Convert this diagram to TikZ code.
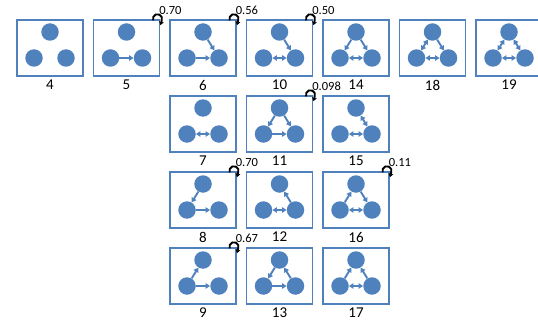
\documentclass[tikz,border=0pt]{standalone}
\usepackage{fontspec}
\setmainfont{Carlito}
\usetikzlibrary{arrows.meta,calc}
\definecolor{mblue}{HTML}{4F81BD}
\tikzset{
  box/.style={draw=mblue, line width=1.3pt, minimum width=66pt, minimum height=56pt, inner sep=0pt},
  dot/.style={circle, fill=mblue, minimum size=17.5pt, inner sep=0pt},
  lab/.style={font=\fontsize{15}{15}\selectfont, inner sep=0pt},
  ann/.style={font=\fontsize{12.5}{12.5}\selectfont, inner sep=0pt, anchor=west},
  ed/.style={draw=mblue, line width=1.9pt, -{Triangle[length=4.5pt,width=5.5pt]}},
  bi/.style={draw=mblue, line width=1.9pt, {Triangle[length=4.5pt,width=5.5pt]}-{Triangle[length=4.5pt,width=5.5pt]}},
  loopy/.style={draw=black, line width=1.9pt, -{Stealth[length=4pt,width=5pt]}}
}
\newcommand{\triad}[4]{%
  \node[box] (box#1) at (#2, #3+28) {};
  \node[dot] (T#1) at (#2, #3+12) {};
  \node[dot] (L#1) at (#2-16, #3+38) {};
  \node[dot] (R#1) at (#2+16, #3+38) {};
  \node[lab] (lab#1) at (#2, #3+65) {#4};
}
\newcommand{\selfloop}[2]{%
  \coordinate (lc#1) at ($(box#1.north east)+(-2.5,-0.5)$);
  \draw[loopy] ($(lc#1)+(-4.5,1.5)$) arc[start angle=160, end angle=385, radius=4.6] -- ++(-1.2,4.5);
  \node[ann] (ann#1) at ($(box#1.north east)+(-1,-9)$) {#2};
}
\begin{document}
\begin{tikzpicture}[x=1pt,y=-1pt]
\useasboundingbox (0,0) rectangle (538,321);
% row 1
\triad{4}{50}{20}{4}
\triad{5}{126.5}{20}{5}
\triad{6}{203}{20}{6}
\triad{10}{279.5}{20}{10}
\triad{14}{356}{20}{14}
\triad{18}{432.5}{20}{18}
\triad{19}{509}{20}{19}
% row 2
\triad{7}{203}{96}{7}
\triad{11}{279.5}{96}{11}
\triad{15}{356}{96}{15}
% row 3
\triad{8}{203}{172}{8}
\triad{12}{279.5}{172}{12}
\triad{16}{356}{172}{16}
% row 4
\triad{9}{203}{248}{9}
\triad{13}{279.5}{248}{13}
\triad{17}{356}{248}{17}
% edges
\draw[ed] (L5) -- (R5);
\draw[ed] (T6) -- (R6); \draw[ed] (L6) -- (R6);
\draw[ed] (T10) -- (R10); \draw[bi] (L10) -- (R10);
\draw[ed] (T14) -- (L14); \draw[ed] (T14) -- (R14); \draw[bi] (L14) -- (R14);
\draw[bi] (T18) -- (L18); \draw[ed] (T18) -- (R18); \draw[bi] (L18) -- (R18);
\draw[bi] (T19) -- (L19); \draw[bi] (T19) -- (R19); \draw[bi] (L19) -- (R19);
\draw[bi] (L7) -- (R7);
\draw[ed] (T11) -- (L11); \draw[ed] (T11) -- (R11); \draw[ed] (L11) -- (R11);
\draw[bi] (T15) -- (R15); \draw[bi] (L15) -- (R15);
\draw[ed] (T8) -- (L8); \draw[ed] (L8) -- (R8);
\draw[ed] (R12) -- (T12); \draw[bi] (L12) -- (R12);
\draw[ed] (L16) -- (T16); \draw[ed] (T16) -- (R16); \draw[bi] (L16) -- (R16);
\draw[ed] (L9) -- (T9); \draw[ed] (L9) -- (R9);
\draw[ed] (T13) -- (L13); \draw[ed] (R13) -- (T13); \draw[ed] (L13) -- (R13);
\draw[ed] (L17) -- (T17); \draw[ed] (R17) -- (T17); \draw[bi] (L17) -- (R17);
% self loops
\selfloop{5}{0.70}
\selfloop{6}{0.56}
\selfloop{10}{0.50}
\selfloop{11}{0.098}
\selfloop{8}{0.70}
\selfloop{9}{0.67}
\selfloop{16}{0.11}
\end{tikzpicture}
\end{document}
